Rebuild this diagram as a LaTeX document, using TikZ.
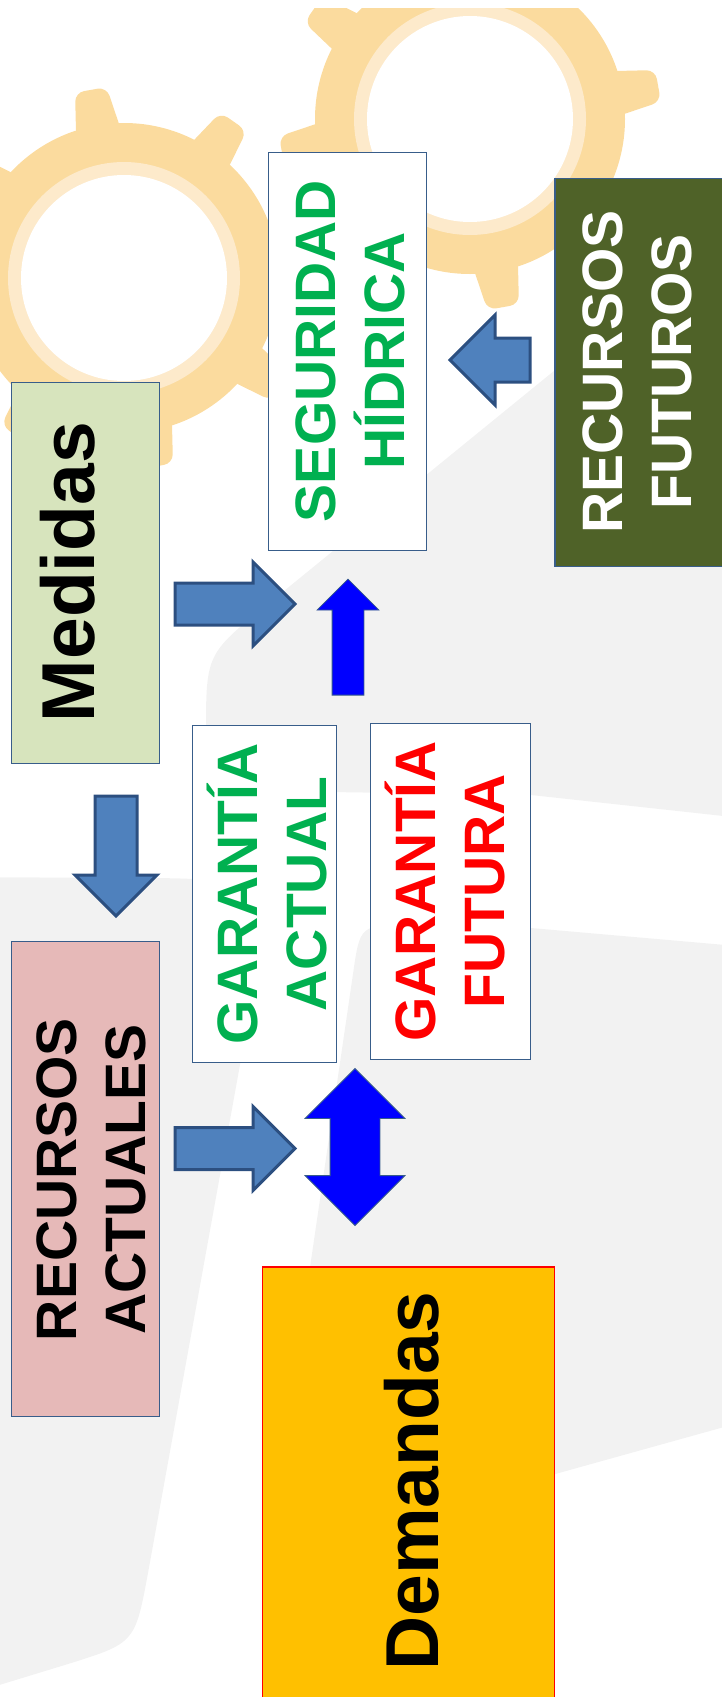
\documentclass[tikz,border=0pt]{standalone}
\usepackage{fontspec}
\setmainfont{Liberation Sans}
\usepackage{tikz}
\usetikzlibrary{shapes.arrows}

\definecolor{fondo}{HTML}{F2F2F2}
\definecolor{engranaje}{HTML}{FBDB9E}
\definecolor{anillo}{HTML}{FDEACB}
\definecolor{borde}{HTML}{385D8A}
\definecolor{bordeflecha}{HTML}{2C4F80}
\definecolor{flechaazul}{HTML}{4F81BD}
\definecolor{verdeclaro}{HTML}{D7E4BD}
\definecolor{verdeoscuro}{HTML}{4F6228}
\definecolor{rosa}{HTML}{E6B9B8}
\definecolor{naranja}{HTML}{FFC000}
\definecolor{verdetexto}{HTML}{00B050}

\tikzset{
    caja/.style={draw=borde, line width=1.5, inner sep=0},
    texto/.style={font=\fontsize{57}{69}\selectfont\bfseries, align=center, rotate=90, inner sep=0, text height=69, text depth=0},
    grande/.style={font=\fontsize{75}{90}\selectfont\bfseries, rotate=90, inner sep=0, anchor=base},
    flecha/.style={single arrow, draw=bordeflecha, fill=flechaazul, line width=3, inner xsep=0, single arrow tip angle=90, anchor=tail},
    flechaviva/.style={draw=borde, fill=blue, line width=0.8, inner xsep=0},
}

\begin{document}
\begin{tikzpicture}[x=1pt, y=-1pt]
        \useasboundingbox (0,0) rectangle (722,1697);
        \clip (0,0) rectangle (722,1697);

        % fondo
        \fill[fondo] (760,203) -- (268,604) .. controls (206,654) .. (206,734) -- (206,795) -- (330,792) -- (531,795) -- (760,820) -- cycle;
        \fill[fondo] (-40,877) -- (123,878) .. controls (273,878) .. (247,1026) -- (148,1573) .. controls (135,1643) .. (68,1664) -- (-40,1697) -- cycle;
        \fill[fondo] (760,948) -- (531,928) -- (410,925) .. controls (360,925) .. (353,974) -- (268,1554) -- (760,1417) -- cycle;

        % engranajes
        \begin{scope}
            \clip (0,8) rectangle (722,1697);
            \foreach \cx/\cy in {124/278, 470/119} {
                \fill[engranaje] (\cx,\cy) circle (155);
                \foreach \a in {10,55,...,325}
                    \fill[engranaje, shift={(\cx,\cy)}, rotate=\a, rounded corners=9] (145,-23) -- (191,-16) -- (191,16) -- (145,23) -- cycle;
                \fill[anillo] (\cx,\cy) circle (116);
                \fill[white] (\cx,\cy) circle (103);
            }
        \end{scope}

        \node[caja, fill=verdeclaro, minimum width=148, minimum height=381] (medidas) at (85.5,573) {};
        \node[caja, fill=white, minimum width=158, minimum height=398] (seguridad) at (347.5,351.5) {};
        \node[caja, fill=verdeoscuro, minimum width=170, minimum height=388] (futuros) at (640,372.5) {};
        \node[caja, fill=white, minimum width=144, minimum height=337] (gactual) at (264.5,894) {};
        \node[caja, fill=white, minimum width=160, minimum height=336] (gfutura) at (450.5,891.5) {};
        \node[caja, fill=rosa, minimum width=148, minimum height=475] (actuales) at (85.5,1179) {};
        \node[caja, draw=red, fill=naranja, minimum width=292, minimum height=446] (demandas) at (408.5,1490) {};

        \node[flecha, minimum height=120, inner ysep=19.5, single arrow head extend=21] (fmedseg) at (173.5,604) {};
        \node[flecha, minimum height=120, inner ysep=19.5, single arrow head extend=21] (factdem) at (173.5,1148.5) {};
        \node[flecha, rotate=-90, minimum height=120, inner ysep=19.5, single arrow head extend=20] (fmedact) at (116,794.5) {};
        \node[flecha, rotate=180, minimum height=80, inner ysep=20.5, single arrow head extend=23] (ffutseg) at (531.5,360) {};

        \node[flechaviva, single arrow, anchor=tail, rotate=90, minimum height=116, inner ysep=15.5, single arrow head extend=15, single arrow tip angle=90] (fgarseg) at (348,695.5) {};
        \node[flechaviva, double arrow, rotate=90, minimum height=157, inner ysep=24.5, double arrow head extend=25, double arrow tip angle=90] (fgardem) at (355,1147) {};

        \node[grande] (tmedidas) at (94,572) {Medidas};
        \node[grande] (tdemandas) at (438,1481) {Demandas};
        \node[texto, text=verdetexto] (tseguridad) at (369.5,351) {SEGURIDAD\\HÍDRICA};
        \node[texto, text=white] (tfuturos) at (656.5,372) {RECURSOS\\FUTUROS};
        \node[texto, text=verdetexto] (tgactual) at (291.5,894) {GARANTÍA\\ACTUAL};
        \node[texto, text=red] (tgfutura) at (469.5,891.5) {GARANTÍA\\FUTURA};
        \node[texto] (tactuales) at (110.5,1179.5) {RECURSOS\\ACTUALES};
\end{tikzpicture}
\end{document}
